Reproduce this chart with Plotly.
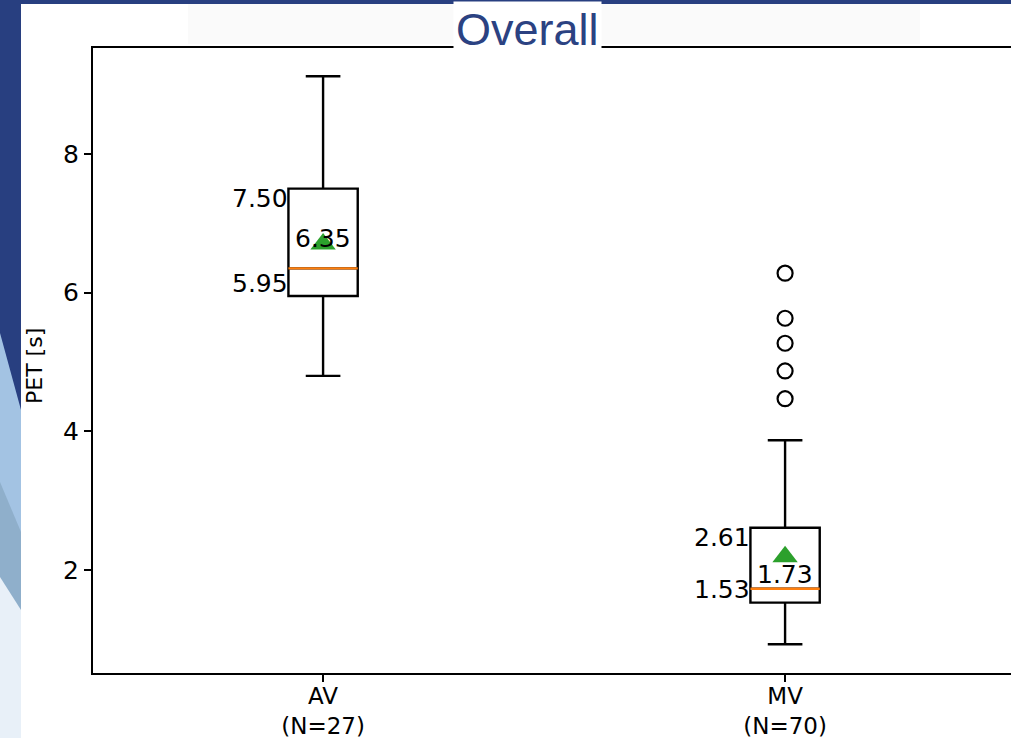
import plotly.graph_objects as go

# ---------------- data ----------------
groups = ["AV", "MV"]
counts = [27, 70]
q1_values = [5.95, 1.53]
median_values = [6.35, 1.73]
q3_values = [7.50, 2.61]
lower_whiskers = [4.80, 0.93]
upper_whiskers = [9.12, 3.87]
mean_values = [6.70, 2.19]
outlier_groups = ["MV", "MV", "MV", "MV", "MV"]
outlier_values = [6.28, 5.63, 5.27, 4.87, 4.47]
y_tick_values = [2, 4, 6, 8]
tick_labels = [f"{g}<br>(N={n})" for g, n in zip(groups, counts)]

# ---------------- style ----------------
FIG_W, FIG_H = 1011, 738
L, T, B = 93, 48, 65
PW, PH = FIG_W - L, FIG_H - T - B
BOX_W = 0.15
FONT = "DejaVu Sans"
NAVY = "#283F80"
positions = [i + 1 for i in range(len(groups))]
pos_of = dict(zip(groups, positions))


def px(xp):
    return (xp - L) / PW


def py(yp):
    return (T + PH - yp) / PH


fig = go.Figure()

for g, p, a, m, b, lo, hi in zip(groups, positions, q1_values, median_values,
                                  q3_values, lower_whiskers, upper_whiskers):
    fig.add_trace(go.Box(
        x=[p], q1=[a], median=[m], q3=[b], lowerfence=[lo], upperfence=[hi],
        width=BOX_W, whiskerwidth=0.5, fillcolor="white",
        line=dict(color="black", width=2.4), boxpoints=False,
        showlegend=False, hoverinfo="skip", name=g,
    ))
    fig.add_trace(go.Scatter(
        x=[p - BOX_W / 2, p + BOX_W / 2], y=[m, m], mode="lines",
        line=dict(color="#FF7F0E", width=2.4), showlegend=False, hoverinfo="skip",
    ))

fig.add_trace(go.Scatter(
    x=positions, y=mean_values, mode="markers",
    marker=dict(symbol="triangle-up", size=22, color="#2CA02C"),
    showlegend=False, hoverinfo="skip",
))
fig.add_trace(go.Scatter(
    x=[pos_of[g] for g in outlier_groups], y=outlier_values, mode="markers",
    marker=dict(symbol="circle-open", size=15, color="black", line=dict(width=2.2, color="black")),
    showlegend=False, hoverinfo="skip",
))

ann = []
label_font = dict(family=FONT, size=25, color="black")
median_shift = [30, 14]
for p, a, m, b, ms in zip(positions, q1_values, median_values, q3_values, median_shift):
    ann.append(dict(x=p - BOX_W / 2, y=b, xref="x", yref="y", text=f"{b:.2f}",
                    showarrow=False, xanchor="right", yanchor="middle", yshift=-10,
                    font=label_font, xshift=2))
    ann.append(dict(x=p - BOX_W / 2, y=a, xref="x", yref="y", text=f"{a:.2f}",
                    showarrow=False, xanchor="right", yanchor="middle", yshift=13,
                    font=label_font, xshift=2))
    ann.append(dict(x=p, y=m, xref="x", yref="y", text=f"{m:.2f}",
                    showarrow=False, xanchor="center", yanchor="middle", yshift=ms,
                    font=label_font))

# y-axis title
ann.append(dict(x=px(35), y=py(366), xref="paper", yref="paper", text="PET [s]",
                textangle=-90, showarrow=False, xanchor="center", yanchor="middle",
                font=dict(family=FONT, size=22, color="black")))
# slide title
ann.append(dict(x=px(527), y=py(29), xref="paper", yref="paper", text="Overall",
                showarrow=False, xanchor="center", yanchor="middle",
                bgcolor="white", borderpad=2,
                font=dict(family="Liberation Sans, Arial", size=45, color="#2B4282")))

# slide decoration
shapes = [
    dict(type="rect", xref="paper", yref="paper", x0=px(188), x1=px(920), y0=py(44), y1=py(4),
         fillcolor="#FAFAFA", line=dict(width=0), layer="below"),
    dict(type="rect", xref="paper", yref="paper", x0=px(0), x1=px(FIG_W), y0=py(4), y1=py(0),
         fillcolor=NAVY, line=dict(width=0), layer="below"),
    dict(type="rect", xref="paper", yref="paper", x0=px(0), x1=px(21), y0=py(FIG_H), y1=py(0),
         fillcolor=NAVY, line=dict(width=0), layer="below"),
]


def poly(points, color):
    path = "M " + " L ".join(f"{px(a):.5f},{py(b):.5f}" for a, b in points) + " Z"
    return dict(type="path", xref="paper", yref="paper", path=path,
                fillcolor=color, line=dict(width=0), layer="below")


shapes.append(poly([(0, 333), (21, 410), (21, FIG_H), (0, FIG_H)], "#A3C3E3"))
shapes.append(poly([(0, 482), (21, 532), (21, FIG_H), (0, FIG_H)], "#8FAFCB"))
shapes.append(poly([(0, 577), (21, 610), (21, FIG_H), (0, FIG_H)], "#E8F0F8"))

fig.update_layout(
    width=FIG_W, height=FIG_H, autosize=False,
    margin=dict(l=L, r=0, t=T, b=B, autoexpand=False),
    paper_bgcolor="white", plot_bgcolor="white",
    annotations=ann, shapes=shapes, showlegend=False,
    xaxis=dict(range=[0.502, 2.489], tickvals=positions, ticktext=tick_labels,
               automargin=False, ticklabelstandoff=-6,
               showgrid=False, zeroline=False, showline=True, mirror=True,
               linecolor="black", linewidth=2, ticks="outside", ticklen=7,
               tickwidth=1.8, tickcolor="black",
               tickfont=dict(family=FONT, size=23, color="black")),
    yaxis=dict(range=[0.515, 9.527], tickvals=y_tick_values,
               automargin=False,
               showgrid=False, zeroline=False, showline=True, mirror=False,
               linecolor="black", linewidth=2, ticks="outside", ticklen=7,
               tickwidth=1.8, tickcolor="black",
               tickfont=dict(family=FONT, size=25, color="black")),
)

fig.write_html("out.html", config={"displayModeBar": False},
               post_script="document.body.style.margin='0';document.body.style.overflow='hidden';")
